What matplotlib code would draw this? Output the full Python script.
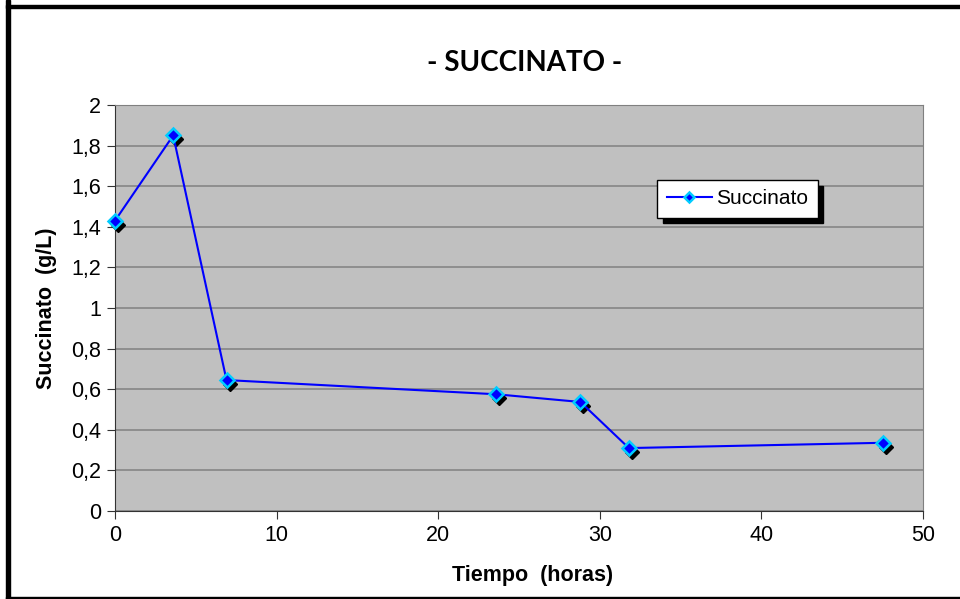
import numpy as np
import matplotlib.pyplot as plt
import matplotlib.transforms as mtransforms
from matplotlib.patches import Rectangle

# succinate concentration over time
tiempo = [0.0, 3.6, 6.9, 23.6, 28.8, 31.8, 47.5]
succinato = [1.43, 1.85, 0.645, 0.575, 0.537, 0.31, 0.336]

x_ticks = [0, 10, 20, 30, 40, 50]
y_ticks = [0, 0.2, 0.4, 0.6, 0.8, 1.0, 1.2, 1.4, 1.6, 1.8, 2.0]
y_labels = ['0', '0,2', '0,4', '0,6', '0,8', '1', '1,2', '1,4', '1,6', '1,8', '2']

plt.rcParams['font.family'] = ['Liberation Sans', 'DejaVu Sans']

fig = plt.figure(figsize=(9.6, 5.99), dpi=100)
ax = fig.add_axes([115 / 960, 1 - 511 / 599, 808 / 960, 406 / 599])
ax.set_facecolor('#c0c0c0')

# outer frame of the chart
for x0, y0, w, h in [(0.006, 0.0, 0.004, 1.0), (0.006, 0.986, 0.994, 0.006),
                     (0.006, 0.0, 0.994, 0.004)]:
    fig.patches.append(Rectangle((x0, y0), w, h, transform=fig.transFigure,
                                 color='black', zorder=0))

ax.set_xlim(0, 50)
ax.set_ylim(0, 2)
ax.set_yticks(y_ticks)
ax.set_yticklabels(y_labels)
ax.set_xticks(x_ticks)
ax.grid(axis='y', color='#868686', linewidth=1.2)
ax.set_axisbelow(True)

for side in ['top', 'right']:
    ax.spines[side].set_color('#808080')
for side in ['left', 'bottom']:
    ax.spines[side].set_color('#333333')
ax.tick_params(axis='both', direction='out', length=6, labelsize=15.5,
               color='#333333', pad=4)

# dark shadow under every marker
shadow = mtransforms.offset_copy(ax.transData, fig=fig, x=3, y=-4, units='dots')
ax.plot(tiempo, succinato, linestyle='none', marker='D', markersize=7,
        color='black', transform=shadow, zorder=3, clip_on=False)
ax.plot(tiempo, succinato, color='#0000ff', linewidth=1.5, marker='D',
        markersize=7, markerfacecolor='#0000ff', markeredgecolor='#00ccff',
        markeredgewidth=1.8, label='Succinato', zorder=4, clip_on=False)

leg = ax.legend(loc='upper left', bbox_to_anchor=(0.671, 0.815), borderaxespad=0,
                fancybox=False, edgecolor='black', framealpha=1, fontsize=15,
                handlelength=2.2, borderpad=0.45, handletextpad=0.2,
                markerscale=0.8,
                shadow={'color': 'black', 'alpha': 1, 'ox': 4, 'oy': -4})
leg.get_frame().set_linewidth(1)

fig.text(0.547, 0.894, '- SUCCINATO -', ha='center', va='center',
         fontsize=20, fontweight='bold', family=['Lato', 'DejaVu Sans'])
ax.set_xlabel('Tiempo  (horas)', fontsize=15.5, fontweight='bold', va='center')
ax.xaxis.set_label_coords(0.517, -0.160)
ax.set_ylabel('Succinato  (g/L)', fontsize=15.5, fontweight='bold', labelpad=10)

fig.savefig('out.png', dpi=100)
